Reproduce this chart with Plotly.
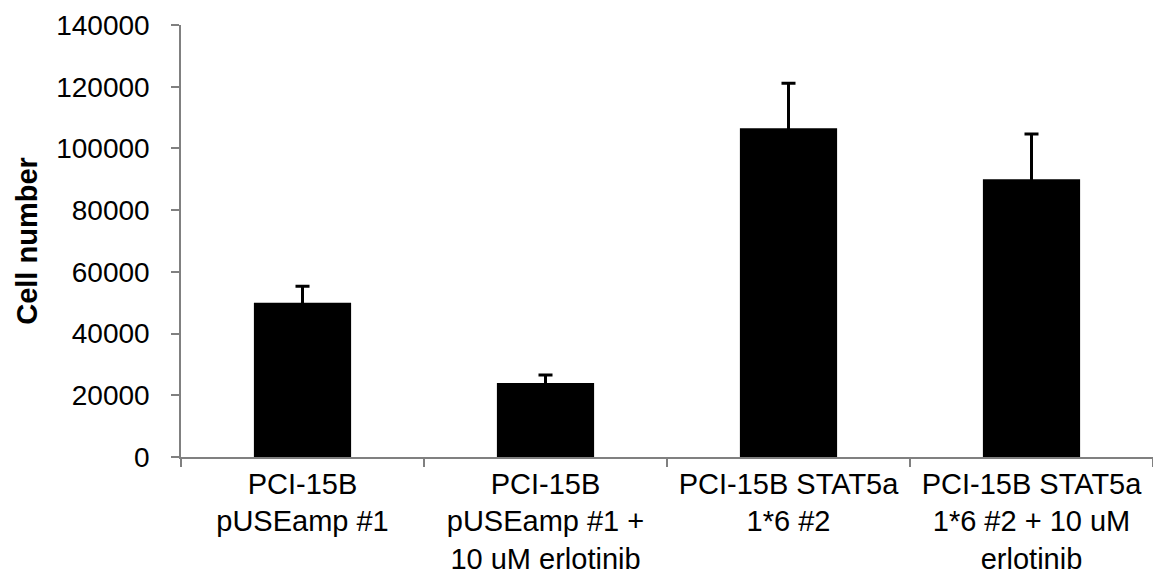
import plotly.graph_objects as go

categories = [
    "PCI-15B<br>pUSEamp #1",
    "PCI-15B<br>pUSEamp #1 +<br>10 uM erlotinib",
    "PCI-15B STAT5a<br>1*6 #2",
    "PCI-15B STAT5a<br>1*6 #2 + 10 uM<br>erlotinib",
]
cell_number = [50000, 24000, 106500, 90000]
error_up = [5300, 2600, 14600, 14650]
y_ticks = [0, 20000, 40000, 60000, 80000, 100000, 120000, 140000]

fig = go.Figure()
fig.add_trace(go.Bar(
    x=categories,
    y=cell_number,
    width=0.4,
    marker=dict(color="black", line=dict(width=0)),
    # symmetric bars: the lower half is hidden inside the black bar
    error_y=dict(type="data", array=error_up,
                 color="black", thickness=3, width=7),
))

# the page body has an 8px margin, so the figure is offset by 8px
fig.update_layout(
    width=1161, height=588,
    margin=dict(l=173, r=16, t=17, b=139),
    paper_bgcolor="white", plot_bgcolor="white",
    font=dict(family="Liberation Sans, Arial, sans-serif", size=28, color="black"),
    showlegend=False,
    bargap=0.6,
)
fig.update_xaxes(
    automargin=False,
    showline=True, linecolor="#808080", linewidth=1.5,
    ticks="outside", ticklen=8, tickcolor="#808080", tickwidth=1.5,
    tickson="boundaries", showgrid=False, zeroline=False,
    tickfont=dict(size=29),
)
fig.update_yaxes(
    automargin=False,
    range=[0, 140000], tickvals=y_ticks, ticktext=[str(v) for v in y_ticks],
    showline=True, linecolor="#808080", linewidth=1.5,
    ticks="outside", ticklen=8, tickcolor="#808080", tickwidth=1.5,
    ticklabelstandoff=16,
    showgrid=False, zeroline=False,
    tickfont=dict(size=28),
    title=dict(text="<b>Cell number</b>", font=dict(size=29), standoff=10),
)

fig.write_html("out.html")
